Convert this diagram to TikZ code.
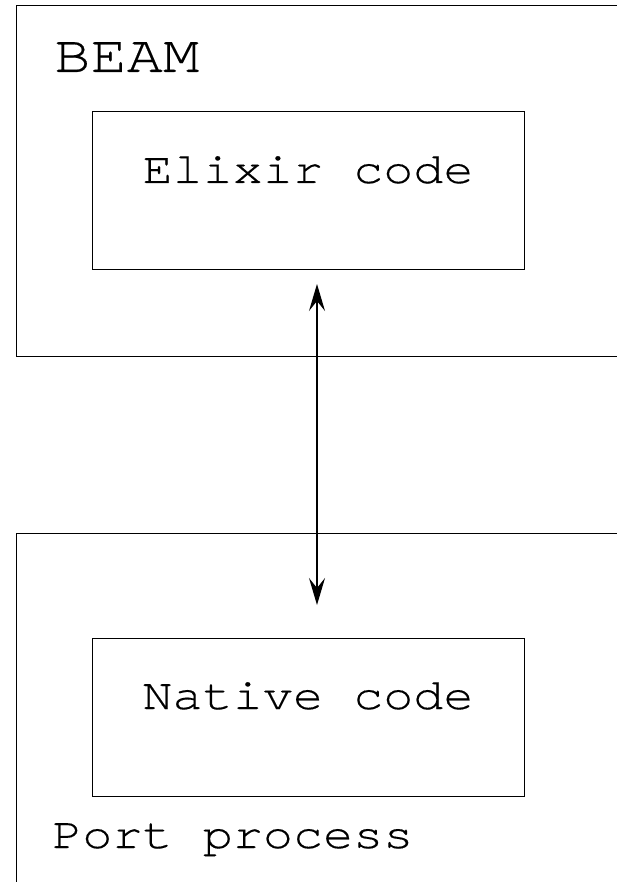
\documentclass[tikz,border=0pt]{standalone}
\usepackage{fontspec}
\newfontfamily\monofam[FakeStretch=1.14,FakeBold=0.3]{TeX Gyre Cursor}
\usetikzlibrary{arrows.meta}
\tikzset{
  box/.style={draw=black, line width=1.4pt, rectangle, inner sep=0pt, anchor=north west},
  lbl/.style={inner sep=0pt, font=\monofam\fontsize{44}{50}\selectfont},
  biglbl/.style={inner sep=0pt, font=\monofam\fontsize{53}{60}\selectfont},
  link/.style={line width=1.4pt, {Stealth[length=27pt,width=16pt,inset=10pt]}-{Stealth[length=27pt,width=16pt,inset=10pt]}}
}
\begin{document}
\begin{tikzpicture}[x=1pt,y=-1pt]
\useasboundingbox (0,0) rectangle (617,882);
\clip (0,0) rectangle (617,882);
\fill[white] (0,0) rectangle (617,882);
% outer containers
\node[box, minimum width=640pt, minimum height=351pt] (beam) at (16,5) {};
\node[box, minimum width=640pt, minimum height=400pt] (port) at (16,533) {};
% inner boxes
\node[box, minimum width=432pt, minimum height=158pt] (elixir) at (92,111) {};
\node[box, minimum width=432pt, minimum height=158pt] (native) at (92,638) {};
% labels
\node[biglbl, anchor=base west] (beamlbl) at (54,72) {BEAM};
\node[lbl, anchor=base] (elixirlbl) at (308,183) {Elixir code};
\node[lbl, anchor=base] (nativelbl) at (308,709) {Native code};
\node[lbl, anchor=base west] (portlbl) at (52,848) {Port process};
% connector
\coordinate (top) at (317,284);
\coordinate (bot) at (317,605);
\draw[link] (top) -- (bot);
\end{tikzpicture}
\end{document}
